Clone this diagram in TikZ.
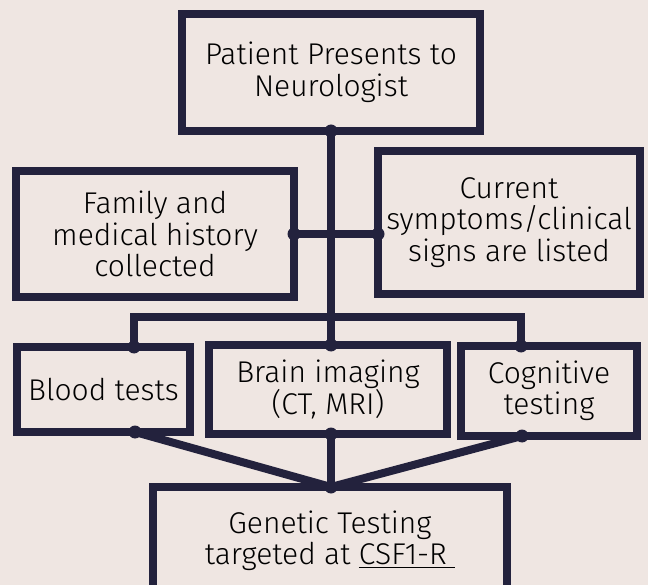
\documentclass[tikz,border=0pt]{standalone}
\usepackage{fontspec}
\setmainfont{Fira Sans Light}
\definecolor{bg}{HTML}{EFE6E2}
\definecolor{navy}{HTML}{23223D}
\begin{document}
\begin{tikzpicture}[x=1pt,y=-1pt,
  box/.style={draw=navy, fill=bg, line width=8pt, outer sep=0pt, inner sep=0pt,
    align=center, text=black, font=\fontsize{30}{31.5}\selectfont},
  link/.style={draw=navy, line width=8pt, line join=miter},
  dot/.style={fill=navy, circle, inner sep=0pt, minimum size=13pt}]
\fill[bg] (0,0) rectangle (648,585);
\useasboundingbox (0,0) rectangle (648,585);

\node[box, minimum width=298pt, minimum height=117pt] (top) at (331,72.5) {Patient Presents to\\Neurologist};
\node[box, minimum width=278pt, minimum height=126pt] (family) at (155,234) {Family and\\medical history\\collected};
\node[box, minimum width=262pt, minimum height=143pt] (current) at (509,222.5) {Current\\symptoms/clinical\\signs are listed};
\node[box, minimum width=173pt, minimum height=85pt] (blood) at (103.5,389.5) {Blood tests};
\node[box, minimum width=238pt, minimum height=89pt] (brain) at (328,389.5) {Brain imaging\\(CT, MRI)};
\node[box, minimum width=176pt, minimum height=90pt] (cog) at (549,391) {Cognitive\\testing};
\node[box, minimum width=354pt, minimum height=108pt] (gen) at (330,541) {Genetic Testing\\targeted at \underline{CSF1-R\ }};

\path (blood.north west) ++(117,0) coordinate (bT);
\path (blood.south west) ++(118,0) coordinate (bB);
\path (cog.north west) ++(60,0) coordinate (cT);
\path (cog.south west) ++(61,0) coordinate (cB);
\coordinate (bus) at (330,317);
\coordinate (gT) at (gen.north -| top.south);
\coordinate (cW) at (current.west |- family.east);

\draw[link] (top.south) -- (top.south |- brain.north);
\draw[link] (family.east) -- (cW);
\draw[link] (bT) |- (bus) -| (cT);
\draw[link] (bB) -- (gT);
\draw[link] (top.south |- brain.south) -- (gT);
\draw[link] (cB) -- (gT);

\foreach \p in {top.south, family.east, cW, bT, cT, bB, cB, gT}
  \node[dot] at (\p) {};
\node[dot] at (top.south |- brain.north) {};
\node[dot] at (top.south |- brain.south) {};
\end{tikzpicture}
\end{document}
